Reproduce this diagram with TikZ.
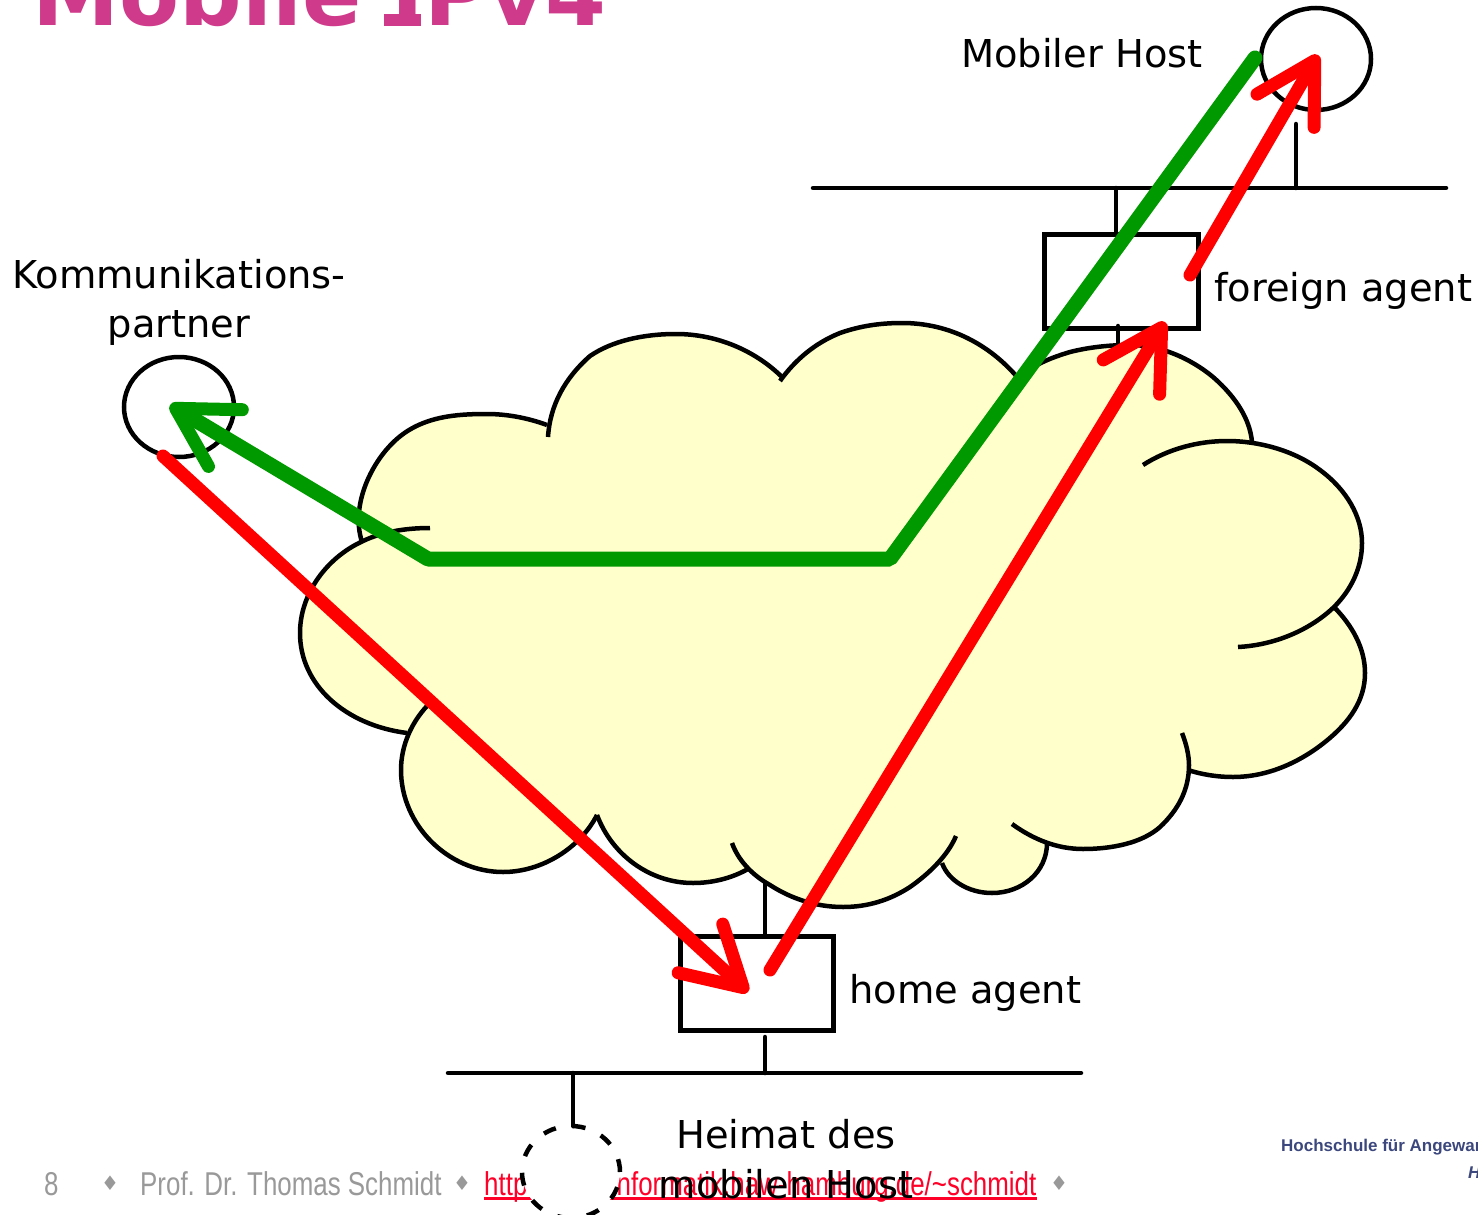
\documentclass[tikz,border=0pt]{standalone}
\usepackage{fontspec}
\setmainfont{DejaVu Sans}
\newfontfamily\footfont[FakeStretch=0.785]{Liberation Sans}
\newfontfamily\logofont{Liberation Sans}
\usetikzlibrary{shapes.geometric,arrows.meta}
\definecolor{cloudfill}{RGB}{255,255,204}
\definecolor{greenpath}{RGB}{0,153,0}
\definecolor{redpath}{RGB}{255,0,0}
\definecolor{titlepink}{RGB}{208,58,138}
\definecolor{footgrey}{RGB}{153,153,153}
\definecolor{footred}{RGB}{255,0,40}
\definecolor{logonavy}{RGB}{60,72,125}
\tikzset{
  wire/.style={draw=black,line width=4.5pt,line cap=round},
  lobe/.style={draw=black,line width=4.5pt,line cap=butt,line join=round},
  lobefill/.style={fill=cloudfill,draw=cloudfill,line width=1.5pt},
  agentbox/.style={draw=black,line width=4.5pt,fill=none,rectangle,inner sep=0pt,anchor=north west},
  hostcircle/.style={draw=black,line width=4.5pt,ellipse,inner sep=0pt,minimum width=110pt,minimum height=100pt},
  label/.style={font=\fontsize{38.4}{50}\selectfont,text=black,inner sep=0pt,anchor=base west},
  footer/.style={font=\footfont\fontsize{33}{40}\selectfont,inner sep=0pt,anchor=base west},
  diamondmark/.style={font=\fontsize{20}{20}\selectfont,text=footgrey,inner sep=0pt},
  routegreen/.style={draw=greenpath,line width=15pt,line cap=round,line join=bevel,
    -{Straight Barb[length=58pt,width=66pt,line width=13pt,round]}},
  routered/.style={draw=redpath,line width=13pt,line cap=round,
    -{Straight Barb[length=58pt,width=66pt,line width=13pt,round]}},
}
\def\lobeL{(362,542) .. controls (350,505) and (372,460) .. (398,438) .. controls (424,416) and (457,414) .. (487,414) .. controls (507,414) and (528,418) .. (547,425)}
\def\lobeA{(548,437) .. controls (550,405) and (565,378) .. (590,356) .. controls (612,341) and (643,334) .. (676,334) .. controls (716,334) and (755,350) .. (783,378)}
\def\lobeB{(780,381) .. controls (795,360) and (815,343) .. (840,333) .. controls (860,326) and (880,323) .. (902,323) .. controls (950,323) and (990,345) .. (1018,378)}
\def\lobeC{(1018,378) .. controls (1033,365) and (1050,358) .. (1070,352) .. controls (1090,347) and (1110,345) .. (1130,345) .. controls (1160,345) and (1190,358) .. (1213,377) .. controls (1237,398) and (1250,420) .. (1252,442)}
\def\lobeD{(1143,465) .. controls (1168,449) and (1198,441) .. (1227,441) .. controls (1260,441) and (1295,451) .. (1320,470) .. controls (1347,490) and (1362,517) .. (1362,543) .. controls (1362,568) and (1351,590) .. (1334,607) .. controls (1310,630) and (1275,645) .. (1238,647)}
\def\lobeE{(1333,606) .. controls (1352,625) and (1365,648) .. (1365,673) .. controls (1365,700) and (1350,722) .. (1325,742) .. controls (1300,762) and (1268,777) .. (1233,777) .. controls (1216,777) and (1200,774) .. (1188,770)}
\def\lobeF{(1182,733) .. controls (1186,743) and (1189,755) .. (1189,765) .. controls (1189,790) and (1178,810) .. (1160,827) .. controls (1142,843) and (1112,849) .. (1083,849) .. controls (1058,849) and (1034,840) .. (1012,824)}
\def\lobeG{(1047,843) .. controls (1047,872) and (1022,893) .. (992,893) .. controls (968,893) and (948,880) .. (942,863)}
\def\lobeH{(956,836) .. controls (948,855) and (930,873) .. (910,887) .. controls (890,900) and (868,907) .. (843,907) .. controls (815,907) and (790,898) .. (770,885) .. controls (752,875) and (738,860) .. (732,843)}
\def\lobeI{(748,869) .. controls (732,878) and (713,883) .. (693,883) .. controls (650,883) and (612,855) .. (597,815)}
\def\lobeJ{(597,815) .. controls (580,848) and (542,872) .. (503,872) .. controls (448,872) and (401,825) .. (401,770) .. controls (401,745) and (412,722) .. (427,706)}
\def\lobeK{(407,733) .. controls (345,725) and (300,685) .. (300,633) .. controls (300,595) and (325,560) .. (359,543) .. controls (380,532) and (405,528) .. (430,528)}
\begin{document}
\begin{tikzpicture}[x=1pt,y=-1pt]
\useasboundingbox (0,0) rectangle (1478,1215);
\clip (0,0) rectangle (1478,1215);
\fill[white] (0,0) rectangle (1478,1215);

% title, cut by the top edge
\node[font=\bfseries\fontsize{87.5}{90}\selectfont,text=titlepink,inner sep=0pt,anchor=base west] (title) at (32,26) {Mobile IPv4};
\fill[titlepink] (384,14) rectangle (421,26);

% footer
\node[footer,text=footgrey] (pagenum) at (44,1195) {8};
\node[diamondmark] (dia1) at (110,1183) {♦};
\node[footer,text=footgrey] (author) at (140,1195) {Prof. Dr. Thomas Schmidt};
\node[diamondmark] (dia2) at (462,1183) {♦};
\node[footer,text=footred] (url) at (484,1195) {http://www.informatik.haw-hamburg.de/\char"7E schmidt};
\fill[footred] (484,1197) rectangle (1037,1200);
\node[diamondmark] (dia3) at (1059,1183) {♦};
\node[font=\logofont\bfseries\fontsize{17}{20}\selectfont,text=logonavy,inner sep=0pt,anchor=base west] (logoA) at (1281,1151) {Hochschule für Angewandte};
\node[font=\logofont\bfseries\itshape\fontsize{17}{20}\selectfont,text=logonavy,inner sep=0pt,anchor=base west] (logoB) at (1468,1178) {Hamburg};

% networks
\coordinate (fnetL) at (813,188);
\coordinate (fnetR) at (1446,188);
\coordinate (hnetL) at (448,1073);
\coordinate (hnetR) at (1081,1073);
\draw[wire] (fnetL) -- (fnetR);
\draw[wire] (hnetL) -- (hnetR);

% hosts
\node[hostcircle,minimum height=102pt] (mobile) at (1316,59) {};
\node[hostcircle] (partner) at (179,407) {};
\node[hostcircle,dash pattern=on 13pt off 17pt,fill=white,minimum width=98pt,minimum height=92pt] (home) at (571,1172) {};

% agents
\node[agentbox,minimum width=154pt,minimum height=94pt] (fa) at (1042,232) {};
\node[agentbox,minimum width=153pt,minimum height=94pt] (ha) at (678,934) {};

% stubs
\coordinate (mobileFoot) at (1296,124);
\coordinate (mobileNet) at (1296,188);
\coordinate (faNet) at (1116,188);
\coordinate (faTop) at (1116,232);
\coordinate (faLow) at (1118,326);
\coordinate (faCloud) at (1118,350);
\coordinate (haCloud) at (765,875);
\coordinate (haTop) at (765,934);
\coordinate (haLow) at (765,1037);
\coordinate (haNet) at (765,1073);
\coordinate (homeNet) at (573,1073);
\coordinate (homeTop) at (573,1126);
\draw[wire] (mobileFoot) -- (mobileNet);
\draw[wire] (faNet) -- (faTop);
\draw[wire] (faLow) -- (faCloud);
\draw[wire] (haCloud) -- (haTop);
\draw[wire] (haLow) -- (haNet);
\draw[wire] (homeNet) -- (homeTop);

% cloud fill
\path[lobefill] (362,542) -- (547,425) -- (548,437) -- (783,378) -- (1018,378) -- (1252,442) -- (1334,607) -- (1188,770) -- (1047,843) -- (942,863) -- (747,867) -- (597,815) -- (407,733) -- cycle;
\path[lobefill] \lobeL -- cycle;
\path[lobefill] \lobeA -- cycle;
\path[lobefill] \lobeB -- cycle;
\path[lobefill] \lobeC -- cycle;
\path[lobefill] \lobeD -- cycle;
\path[lobefill] \lobeE -- cycle;
\path[lobefill] \lobeF -- cycle;
\path[lobefill] \lobeG -- cycle;
\path[lobefill] \lobeH -- cycle;
\path[lobefill] \lobeI -- cycle;
\path[lobefill] \lobeJ -- cycle;
\path[lobefill] \lobeK -- cycle;
% cloud outline
\draw[lobe] \lobeL;
\draw[lobe] \lobeA;
\draw[lobe] \lobeB;
\draw[lobe] \lobeC;
\draw[lobe] \lobeD;
\draw[lobe] \lobeE;
\draw[lobe] \lobeF;
\draw[lobe] \lobeG;
\draw[lobe] \lobeH;
\draw[lobe] \lobeI;
\draw[lobe] \lobeJ;
\draw[lobe] \lobeK;

% labels
\node[label] (lmobile) at (961,68) {Mobiler Host};
\node[label] (lfa) at (1214,301) {foreign agent};
\node[label] (lha) at (849,1003) {home agent};
\node[label,anchor=base] (lkp1) at (179,288) {Kommunikations-};
\node[label,anchor=base] (lkp2) at (179,337) {partner};
\node[label,anchor=base] (lh1) at (786,1148) {Heimat des};
\node[label,anchor=base] (lh2) at (786,1198) {mobilen Host};

% routes
\coordinate (g1) at (1255,58);
\coordinate (g2) at (890,559);
\coordinate (g3) at (428,559);
\coordinate (g4) at (170,405);
\draw[routegreen] (g1) -- (g2) -- (g3) -- (g4);
\coordinate (r1a) at (163,456);
\coordinate (r1b) at (748,992);
\draw[routered] (r1a) -- (r1b);
\coordinate (r2a) at (770,970);
\coordinate (r2b) at (1165,322);
\draw[routered] (r2a) -- (r2b);
\coordinate (r3a) at (1190,275);
\coordinate (r3b) at (1318,55);
\draw[routered] (r3a) -- (r3b);
\end{tikzpicture}
\end{document}
